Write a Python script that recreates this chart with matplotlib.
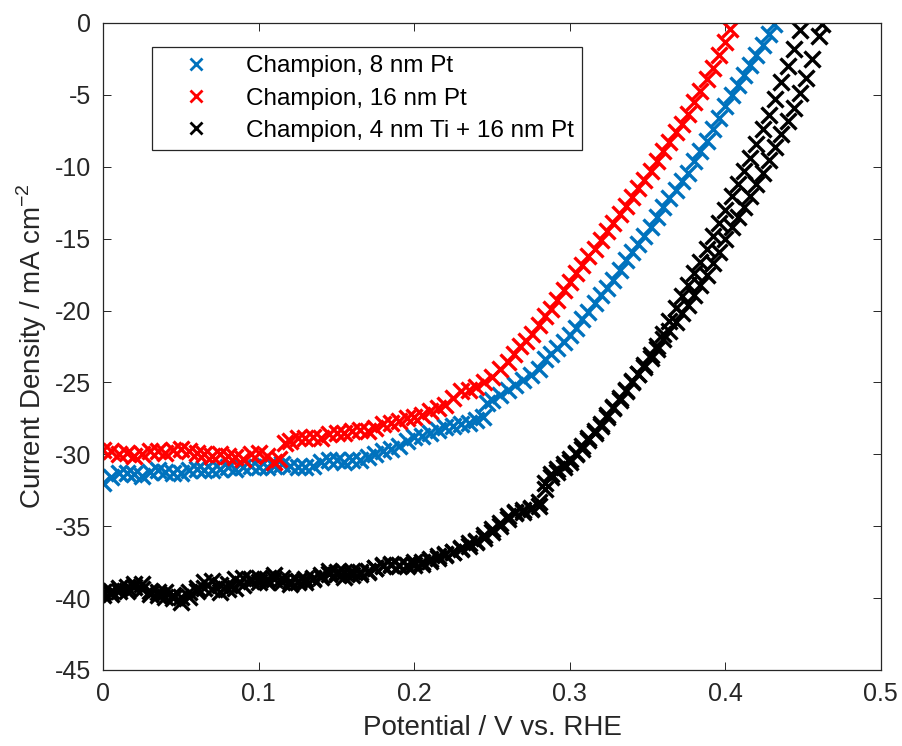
"""Linear sweep voltammograms of the champion photocathodes."""

import matplotlib

matplotlib.use("Agg")
import matplotlib.pyplot as plt

# 8 nm Pt champion (V vs. RHE, mA cm^-2)
pt8_potential = [
    0.000, 0.005, 0.010, 0.015, 0.020, 0.025, 0.030, 0.035, 0.040, 0.045,
    0.050, 0.055, 0.060, 0.065, 0.070, 0.075, 0.080, 0.085, 0.090, 0.095,
    0.100, 0.105, 0.110, 0.115, 0.120, 0.125, 0.130, 0.135, 0.140, 0.145,
    0.150, 0.155, 0.160, 0.165, 0.170, 0.175, 0.180, 0.185, 0.190, 0.195,
    0.200, 0.205, 0.210, 0.215, 0.220, 0.225, 0.230, 0.235, 0.240, 0.244,
    0.247, 0.250, 0.255, 0.260, 0.265, 0.270, 0.275, 0.280, 0.284, 0.288,
    0.292, 0.296, 0.300, 0.304, 0.308, 0.312, 0.316, 0.320, 0.324, 0.328,
    0.332, 0.336, 0.340, 0.344, 0.348, 0.352, 0.356, 0.360, 0.364, 0.368,
    0.372, 0.376, 0.380, 0.384, 0.388, 0.392, 0.396, 0.400, 0.404, 0.408,
    0.412, 0.416, 0.420, 0.424, 0.428, 0.431,
]
pt8_current = [
    -32.0, -31.6, -31.3, -31.3, -31.4, -31.5, -31.2, -31.1, -31.2, -31.3,
    -31.3, -31.1, -31.0, -31.1, -31.1, -31.0, -30.9, -31.0, -30.9, -30.8,
    -30.9, -30.9, -30.8, -30.7, -30.8, -30.9, -30.9, -30.8, -30.5, -30.4,
    -30.4, -30.5, -30.4, -30.4, -30.2, -30.0, -29.8, -29.6, -29.4, -29.1,
    -28.8, -28.7, -28.5, -28.3, -28.1, -28.0, -27.9, -27.8, -27.6, -27.4,
    -26.4, -26.2, -25.9, -25.5, -25.2, -24.8, -24.5, -24.1, -23.4, -23.0,
    -22.6, -22.2, -21.7, -21.2, -20.6, -20.1, -19.5, -18.9, -18.4, -17.9,
    -17.2, -16.5, -15.9, -15.4, -14.8, -14.2, -13.5, -12.8, -12.2, -11.6,
    -11.0, -10.4, -9.6, -8.9, -8.2, -7.4, -6.6, -5.8, -5.0, -4.3,
    -3.6, -2.9, -2.2, -1.5, -0.8, -0.1,
]

# 16 nm Pt champion
pt16_potential = [
    0.000, 0.005, 0.010, 0.015, 0.020, 0.025, 0.030, 0.035, 0.040, 0.045,
    0.050, 0.055, 0.060, 0.065, 0.070, 0.075, 0.080, 0.085, 0.090, 0.095,
    0.100, 0.105, 0.110, 0.113, 0.117, 0.120, 0.125, 0.130, 0.135, 0.140,
    0.145, 0.150, 0.155, 0.160, 0.165, 0.170, 0.175, 0.180, 0.185, 0.190,
    0.195, 0.200, 0.205, 0.210, 0.215, 0.220, 0.225, 0.230, 0.235, 0.240,
    0.245, 0.250, 0.255, 0.260, 0.264, 0.268, 0.272, 0.276, 0.280, 0.284,
    0.288, 0.292, 0.296, 0.300, 0.304, 0.308, 0.312, 0.316, 0.320, 0.324,
    0.328, 0.332, 0.336, 0.340, 0.344, 0.348, 0.352, 0.356, 0.360, 0.364,
    0.368, 0.372, 0.376, 0.380, 0.384, 0.388, 0.392, 0.396, 0.400, 0.403,
]
pt16_current = [
    -29.7, -29.8, -30.0, -29.9, -30.1, -30.0, -29.8, -29.8, -29.9, -29.7,
    -29.6, -29.8, -29.9, -30.0, -30.1, -30.0, -30.1, -30.2, -30.3, -30.0,
    -29.9, -30.1, -30.5, -30.3, -29.2, -29.1, -28.9, -28.9, -28.8, -28.9,
    -28.6, -28.5, -28.5, -28.4, -28.3, -28.4, -28.2, -27.9, -27.8, -27.7,
    -27.5, -27.4, -27.3, -27.0, -26.8, -26.6, -26.1, -25.6, -25.5, -25.3,
    -25.0, -24.6, -24.1, -23.6, -23.0, -22.5, -22.1, -21.6, -21.0, -20.4,
    -19.9, -19.3, -18.6, -18.0, -17.4, -16.8, -16.2, -15.7, -15.1, -14.5,
    -13.9, -13.3, -12.7, -12.1, -11.5, -10.9, -10.3, -9.6, -8.9, -8.3,
    -7.6, -7.0, -6.3, -5.5, -4.7, -3.9, -3.1, -2.2, -1.3, -0.4,
]

# 4 nm Ti + 16 nm Pt champion, two sweeps
tipt_potential = [
    0.000, 0.005, 0.010, 0.015, 0.020, 0.025, 0.030, 0.035, 0.040, 0.045,
    0.050, 0.055, 0.060, 0.065, 0.070, 0.075, 0.080, 0.085, 0.090, 0.095,
    0.100, 0.105, 0.110, 0.115, 0.120, 0.125, 0.130, 0.135, 0.140, 0.145,
    0.150, 0.155, 0.160, 0.165, 0.170, 0.175, 0.180, 0.185, 0.190, 0.195,
    0.200, 0.205, 0.210, 0.215, 0.220, 0.225, 0.230, 0.235, 0.240, 0.245,
    0.250, 0.255, 0.260, 0.265, 0.270, 0.275, 0.280, 0.284, 0.288, 0.292,
    0.296, 0.300, 0.304, 0.308, 0.312, 0.316, 0.320, 0.324, 0.328, 0.332,
    0.336, 0.340, 0.344, 0.348, 0.352, 0.356, 0.360, 0.364, 0.368, 0.372,
    0.376, 0.380, 0.384, 0.388, 0.392, 0.396, 0.400, 0.404, 0.408, 0.412,
    0.416, 0.420, 0.424, 0.428, 0.432, 0.436, 0.440, 0.444, 0.448,
]
tipt_current = [
    -39.6, -39.7, -39.5, -39.2, -39.0, -39.4, -39.7, -39.8, -39.9, -40.0,
    -40.3, -39.9, -39.3, -38.9, -38.8, -39.1, -39.4, -39.3, -39.1, -38.8,
    -38.6, -38.9, -38.7, -38.9, -39.0, -38.8, -38.7, -38.6, -38.4, -38.1,
    -38.2, -38.5, -38.4, -38.2, -38.1, -37.9, -37.8, -37.7, -37.7, -37.8,
    -37.7, -37.5, -37.4, -37.2, -37.0, -36.8, -36.6, -36.4, -36.1, -35.8,
    -35.4, -35.0, -34.5, -34.1, -33.9, -33.8, -33.6, -32.4, -31.6, -31.2,
    -30.9, -30.5, -30.0, -29.6, -29.0, -28.5, -28.0, -27.4, -26.8, -26.2,
    -25.6, -25.0, -24.4, -23.8, -23.1, -22.5, -21.6, -20.7, -19.8, -19.0,
    -18.2, -17.4, -16.6, -15.7, -14.8, -13.9, -13.0, -12.0, -11.2, -10.3,
    -9.4, -8.4, -7.4, -6.4, -5.3, -4.1, -3.0, -1.8, -0.5,
]
tipt_potential_2 = [
    0.000, 0.005, 0.010, 0.015, 0.020, 0.025, 0.030, 0.035, 0.040, 0.045,
    0.050, 0.055, 0.060, 0.065, 0.070, 0.075, 0.080, 0.085, 0.090, 0.095,
    0.100, 0.105, 0.110, 0.115, 0.120, 0.125, 0.130, 0.135, 0.140, 0.145,
    0.150, 0.155, 0.160, 0.165, 0.170, 0.175, 0.180, 0.185, 0.190, 0.195,
    0.200, 0.205, 0.210, 0.215, 0.220, 0.225, 0.230, 0.235, 0.240, 0.245,
    0.250, 0.255, 0.260, 0.265, 0.270, 0.275, 0.280, 0.284, 0.288, 0.292,
    0.296, 0.300, 0.304, 0.308, 0.312, 0.316, 0.320, 0.324, 0.328, 0.332,
    0.336, 0.340, 0.344, 0.348, 0.352, 0.356, 0.360, 0.364, 0.368, 0.372,
    0.376, 0.380, 0.384, 0.388, 0.392, 0.396, 0.400, 0.404, 0.408, 0.412,
    0.416, 0.420, 0.424, 0.428, 0.432, 0.436, 0.440, 0.444, 0.448, 0.452,
    0.456, 0.460, 0.462,
]
tipt_current_2 = [
    -39.8, -39.5, -39.3, -39.5, -39.2, -39.0, -39.5, -39.6, -39.6, -39.8,
    -39.9, -39.6, -39.5, -39.3, -39.4, -39.6, -39.0, -38.7, -38.6, -38.7,
    -38.9, -38.7, -38.4, -38.6, -38.8, -38.9, -38.9, -38.7, -38.5, -38.3,
    -38.3, -38.2, -38.1, -38.3, -38.2, -37.9, -37.7, -37.6, -37.8, -37.7,
    -37.5, -37.6, -37.3, -37.1, -36.9, -36.8, -36.5, -36.2, -36.0, -35.6,
    -35.2, -34.8, -34.3, -34.0, -34.0, -33.7, -33.3, -32.0, -31.4, -31.0,
    -30.7, -30.3, -29.9, -29.4, -28.9, -28.4, -27.9, -27.3, -26.7, -26.1,
    -25.5, -24.9, -24.4, -23.9, -23.3, -22.7, -22.0, -21.4, -20.8, -20.2,
    -19.6, -18.9, -18.2, -17.5, -16.7, -15.9, -15.0, -14.2, -13.5, -12.8,
    -12.0, -11.2, -10.4, -9.5, -8.6, -7.7, -6.8, -5.9, -4.9, -3.8,
    -2.5, -0.9, -0.1,
]

labels = [
    "Champion, 8 nm Pt",
    "Champion, 16 nm Pt",
    "Champion, 4 nm Ti + 16 nm Pt",
]
x_ticks = [0, 0.1, 0.2, 0.3, 0.4, 0.5]
x_tick_labels = ["0", "0.1", "0.2", "0.3", "0.4", "0.5"]
y_ticks = [-45, -40, -35, -30, -25, -20, -15, -10, -5, 0]

TEXT = "#262626"
MARKER = dict(linestyle="none", marker="x", markersize=11, markeredgewidth=2.4)


def main() -> None:
    plt.rcParams["font.family"] = ["Liberation Sans", "DejaVu Sans"]
    plt.rcParams["mathtext.fontset"] = "custom"
    plt.rcParams["mathtext.rm"] = "Liberation Sans"
    plt.rcParams["axes.unicode_minus"] = False

    figure = plt.figure(figsize=(9.02, 7.46), dpi=100)
    axis = figure.add_axes([0.1145, 0.1019, 0.862, 0.8673])

    axis.plot(pt8_potential, pt8_current, color="#0072BD", label=labels[0], **MARKER)
    axis.plot(pt16_potential, pt16_current, color="#FF0000", label=labels[1], **MARKER)
    axis.plot(tipt_potential, tipt_current, color="black", label=labels[2], **MARKER)
    axis.plot(tipt_potential_2, tipt_current_2, color="black", **MARKER)

    axis.set_xlim(0, 0.5)
    axis.set_ylim(-45, 0)
    axis.set_xticks(x_ticks)
    axis.set_xticklabels(x_tick_labels)
    axis.set_yticks(y_ticks)
    axis.tick_params(
        direction="in", top=True, right=True, length=6, width=0.7,
        labelsize=18, colors=TEXT, pad=9,
    )
    for spine in axis.spines.values():
        spine.set_linewidth(0.9)
        spine.set_color(TEXT)

    axis.set_xlabel("Potential / V vs. RHE", fontsize=20, color=TEXT, labelpad=6)
    axis.set_ylabel(
        r"Current Density / mA cm$^{\mathregular{-2}}$",
        fontsize=20, color=TEXT, labelpad=4,
    )

    legend = axis.legend(
        loc="upper left", bbox_to_anchor=(0.063, 0.963), borderaxespad=0,
        fontsize=17.5, numpoints=1, handlelength=2.9, handletextpad=0.6,
        fancybox=False, framealpha=1, edgecolor=TEXT, borderpad=0.35,
        labelspacing=0.42,
    )
    legend.get_frame().set_linewidth(0.9)
    for handle in legend.legend_handles:
        handle.set_markersize(9)
        handle.set_markeredgewidth(2.0)

    figure.savefig("out.png", dpi=100)
    plt.close(figure)


if __name__ == "__main__":
    main()
